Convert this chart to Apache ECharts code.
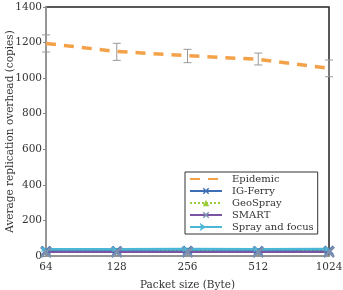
<!DOCTYPE html>
<html><head><meta charset="utf-8">
<script src="https://cdn.jsdelivr.net/npm/echarts@6/dist/echarts.min.js"></script>
<style>html,body{margin:0;padding:0;background:#fff}#c{width:343px;height:290px}</style>
</head><body><div id="c"></div>
<script>
const categories = ['64', '128', '256', '512', '1024'];
const yTicks = [0, 200, 400, 600, 800, 1000, 1200, 1400];
const epidemic = [1195, 1150, 1126, 1106, 1055];
const epidemicLow = [1147, 1100, 1087, 1074, 1008];
const epidemicHigh = [1243, 1196, 1162, 1141, 1102];
const igFerry = [30, 30, 31, 30, 31];
const geoSpray = [24, 24, 25, 24, 25];
const smart = [22, 22, 23, 22, 23];
const sprayFocus = [38, 38, 39, 38, 39];

const FONT = 'DejaVu Serif';
const xPath = 'path://M0,1.5L1.5,0L5,3.5L8.5,0L10,1.5L6.5,5L10,8.5L8.5,10L5,6.5L1.5,10L0,8.5L3.5,5Z';
const chart = echarts.init(document.getElementById('c'), null, {renderer: 'canvas'});
const errData = categories.map((c, i) => [i, epidemicLow[i], epidemicHigh[i]]);
chart.setOption({
  animation: false,
  textStyle: {fontFamily: FONT},
  grid: {left: 46, right: 14, top: 7, bottom: 34, outerBoundsMode: 'none', containLabel: false,
    show: true, borderColor: '#222', borderWidth: 1.5, backgroundColor: 'transparent'},
  xAxis: [{
    type: 'category', data: categories, boundaryGap: false,
    axisLine: {lineStyle: {color: '#aaa', width: 1.5}},
    axisTick: {show: true, inside: true, length: 3, lineStyle: {color: '#888'}},
    axisLabel: {color: '#333', fontFamily: FONT, fontSize: 10.5, margin: 6},
    name: 'Packet size (Byte)', nameLocation: 'middle', nameGap: 24, nameMoveOverlap: false,
    nameTextStyle: {color: '#333', fontFamily: FONT, fontSize: 10.5},
    splitLine: {show: false}
  }],
  yAxis: [{
    type: 'value', min: 0, max: 1400, interval: 200,
    axisLine: {show: true, lineStyle: {color: '#aaa', width: 1.5}},
    axisTick: {show: true, length: 3, lineStyle: {color: '#888'}},
    axisLabel: {color: '#333', fontFamily: FONT, fontSize: 10.5, margin: 4,
      formatter: v => yTicks.includes(v) ? String(v) : ''},
    splitLine: {show: false},
    name: 'Average replication overhead (copies)', nameLocation: 'middle', nameGap: 30, nameMoveOverlap: false,
    nameTextStyle: {color: '#333', fontFamily: FONT, fontSize: 10.5}
  }],
  legend: {
    orient: 'vertical', left: 185, top: 172,
    backgroundColor: '#fff', borderColor: '#333', borderWidth: 1,
    padding: [2, 4, 2, 4], itemGap: 2, itemWidth: 32, itemHeight: 8,
    textStyle: {fontFamily: FONT, fontSize: 10, color: '#333', lineHeight: 10, padding: [0, 0, 0, 5]},
    data: ['Epidemic', 'IG-Ferry', 'GeoSpray', 'SMART', 'Spray and focus']
  },
  series: [
    {name: 'Epidemic', type: 'line', data: epidemic, symbol: 'circle', showSymbol: false, z: 5,
      lineStyle: {color: '#f4a24a', width: 3.5, type: [10, 8]}, itemStyle: {color: 'rgba(0,0,0,0)'}},
    {name: 'IG-Ferry', type: 'line', data: igFerry, symbol: xPath, symbolSize: 10,
      lineStyle: {color: '#3c6fb5', width: 3.5}, itemStyle: {color: '#3c6fb5'}},
    {name: 'GeoSpray', type: 'line', data: geoSpray, symbol: 'triangle', symbolSize: 5,
      lineStyle: {color: '#9ccc3c', width: 2, type: 'dotted'}, itemStyle: {color: '#9ccc3c'}},
    {name: 'SMART', type: 'line', data: smart, symbol: xPath, symbolSize: 12,
      lineStyle: {color: '#7b55a3', width: 2}, itemStyle: {color: '#7b8fb0'}},
    {name: 'Spray and focus', type: 'line', data: sprayFocus, symbol: 'arrow', symbolSize: 5, symbolRotate: -90,
      lineStyle: {color: '#4cb6d6', width: 2.5}, itemStyle: {color: '#4cb6d6'}},
    {name: 'err', type: 'custom', data: errData, z: 4,
      renderItem: (params, api) => {
        const lo = api.coord([api.value(0), api.value(1)]);
        const hi = api.coord([api.value(0), api.value(2)]);
        const w = 4;
        const st = {stroke: '#999', lineWidth: 1};
        return {type: 'group', children: [
          {type: 'line', shape: {x1: lo[0], y1: lo[1], x2: hi[0], y2: hi[1]}, style: st},
          {type: 'line', shape: {x1: lo[0]-w, y1: lo[1], x2: lo[0]+w, y2: lo[1]}, style: st},
          {type: 'line', shape: {x1: hi[0]-w, y1: hi[1], x2: hi[0]+w, y2: hi[1]}, style: st}
        ]};
      }}
  ]
});
</script></body></html>
